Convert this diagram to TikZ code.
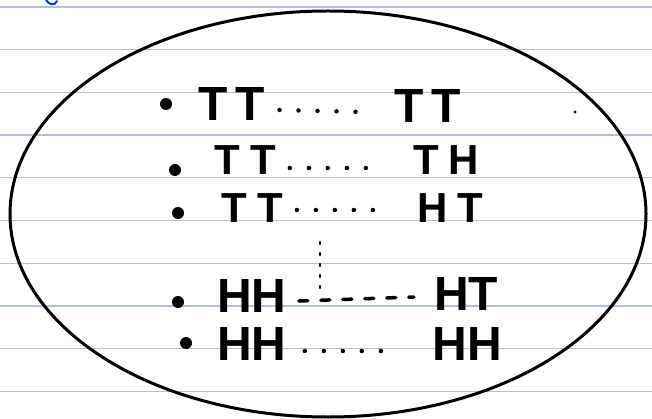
\documentclass[tikz,border=0pt]{standalone}
\usepackage{fontspec}
\setmainfont{Liberation Sans}
\usetikzlibrary{calc}

\definecolor{ruling}{RGB}{178,192,214}

\tikzset{
  flips/.style={font=\fontsize{48}{48}\selectfont\bfseries, inner sep=0pt,
    text height=34pt, text depth=0pt},
  smallflips/.style={flips, font=\fontsize{42}{42}\selectfont\bfseries,
    text height=30pt},
  bul/.style={circle, fill=black, inner sep=0pt, minimum size=12pt},
  dotrow/.style={line width=4.5pt, line cap=round, dash pattern=on 0pt off 19pt},
  dashrow/.style={line width=3.5pt, line cap=round, dash pattern=on 9pt off 13pt}
}

\begin{document}
\begin{tikzpicture}[x=1pt,y=-1pt]
\useasboundingbox (0,0) rectangle (652,419);
% Paper
\fill[white] (0,0) rectangle (652,419);
\foreach \i in {0,...,9}
    \draw[line width=1.4pt, ruling] (0,7+42.7*\i) -- (652,7+42.7*\i);
\draw[line width=2pt, blue!80!cyan, line cap=round] (46,0) .. controls (49,5) and (55,6) .. (57,1);

% Set of outcomes
\draw[line width=3pt] (328,214) ellipse [x radius=318, y radius=203];

% Rows
\node[bul] (b1) at (166,104) {};
\node[bul] (b2) at (175,170) {};
\node[bul] (b3) at (178,213) {};
\node[bul] (b4) at (178,302) {};
\node[bul] (b5) at (186,343) {};

\node[flips] (l1) at (232,104) {T\kern8pt T};
\node[flips] (r1) at (428,106) {T\kern8pt T};
\node[smallflips] (l2) at (245,160) {T\kern10pt T};
\node[smallflips] (r2) at (446,160) {T\kern10pt H};
\node[smallflips] (l3) at (252,208) {T\kern10pt T};
\node[smallflips] (r3) at (450,208) {H\kern10pt T};
\node[flips] (l4) at (252,295) {HH};
\node[flips] (r4) at (466,293) {HT};
\node[flips] (l5) at (252,343) {HH};
\node[flips] (r5) at (467,343) {HH};

% Dots between
\draw[dotrow] ([xshift=14pt,yshift=-6pt]l1.east) -- ([xshift=-30pt,yshift=-6pt]r1.west);
\draw[dotrow] ([xshift=14pt,yshift=-8pt]l2.east) -- ([xshift=-38pt,yshift=-8pt]r2.west);
\draw[dotrow] ([xshift=14pt,yshift=-2pt]l3.east) -- ([xshift=-42pt,yshift=-2pt]r3.west);
\draw[dashrow] ([xshift=12pt,yshift=-6pt]l4.east) -- ([xshift=-20pt,yshift=-4pt]r4.west);
\draw[dotrow] ([xshift=18pt,yshift=-8pt]l5.east) -- ([xshift=-45pt,yshift=-8pt]r5.west);

\coordinate (vtop) at (320,242);
\coordinate (vbot) at (320,290);
\draw[line width=2.4pt, line cap=round, dash pattern=on 2pt off 9pt] (vtop) -- (vbot);

\fill (575,112) circle (1.6pt);
\end{tikzpicture}
\end{document}
